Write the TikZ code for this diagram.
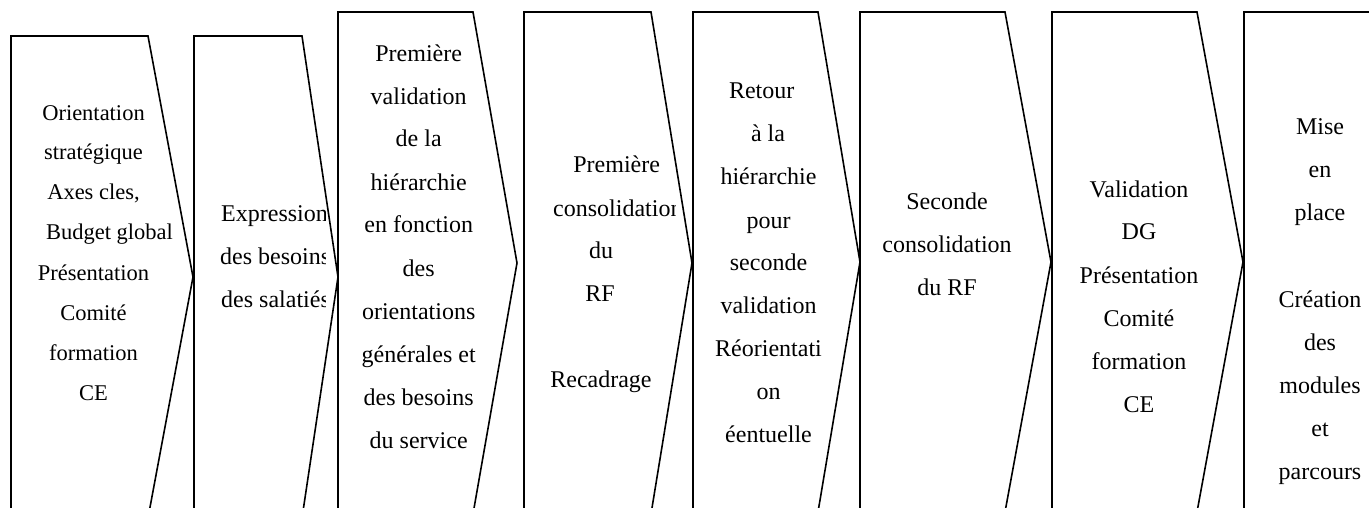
\documentclass[tikz,border=0pt]{standalone}
\usepackage{fontspec}
\setmainfont{Liberation Serif}
\begin{document}
\begin{tikzpicture}[x=1pt,y=-1pt,
  chev/.style={draw=black, line width=1.6pt, line join=miter},
  big/.style={font=\fontsize{24pt}{24pt}\selectfont, inner sep=0pt, anchor=base},
  small/.style={font=\fontsize{22.5pt}{22.5pt}\selectfont, inner sep=0pt, anchor=base}]
\useasboundingbox (0,0) rectangle (1369,508);
\clip (0,0) rectangle (1369,508);

% chevron outlines: left, top, top-right corner, tip, bottom
\draw[chev] (11,36) -- (148,36) -- (193,277) -- (148,518) -- (11,518) -- cycle;
\draw[chev] (194,36) -- (302,36) -- (338,277) -- (302,518) -- (194,518) -- cycle;
\draw[chev] (338,12) -- (473,12) -- (517,263) -- (473,514) -- (338,514) -- cycle;
\draw[chev] (524,12) -- (651,12) -- (692,263) -- (651,514) -- (524,514) -- cycle;
\draw[chev] (693,12) -- (818,12) -- (860,262) -- (818,512) -- (693,512) -- cycle;
\draw[chev] (860,12) -- (1005,12) -- (1051,262) -- (1005,512) -- (860,512) -- cycle;
\draw[chev] (1052,12) -- (1197,12) -- (1243,262) -- (1197,512) -- (1052,512) -- cycle;
\draw[chev] (1244,520) -- (1244,12) -- (1400,12);

% step 1
\node[small] (a1) at (93.5,121) {Orientation};
\node[small] (a2) at (93.5,160) {stratégique};
\node[small] (a3) at (93.5,200) {Axes cles,};
\node[small] (a4) at (109.5,240) {Budget global};
\node[small] (a5) at (93.5,280) {Présentation};
\node[small] (a6) at (93.5,320) {Comité};
\node[small] (a7) at (93.5,360) {formation};
\node[small] (a8) at (93.5,400) {CE};

% step 2 (text cut by its frame)
\begin{scope}
\clip (194,36) rectangle (325,508);
\node[big,anchor=base west] (b1) at (221,222) {Expression};
\node[big,anchor=base west] (b2) at (220,264) {des besoins};
\node[big,anchor=base west] (b3) at (221,307) {des salatiés};
\end{scope}

% step 3
\node[big] (c1) at (418.7,62) {Première};
\node[big] (c2) at (418.7,105) {validation};
\node[big] (c3) at (418.7,147) {de la};
\node[big] (c4) at (418.7,190) {hiérarchie};
\node[big] (c5) at (418.7,233) {en fonction};
\node[big] (c6) at (418.7,276) {des};
\node[big] (c7) at (418.7,319) {orientations};
\node[big] (c8) at (418.7,362) {générales et};
\node[big] (c9) at (418.7,405) {des besoins};
\node[big] (c10) at (418.7,448) {du service};

% step 4 (text cut by its frame)
\begin{scope}
\clip (524,12) rectangle (675,508);
\node[big] (d1) at (616.7,173) {Première};
\node[big,anchor=base west] (d2) at (553,216.7) {consolidation};
\node[big] (d3) at (601,258) {du};
\node[big] (d4) at (600,301) {RF};
\node[big] (d5) at (601,387) {Recadrage};
\end{scope}

% step 5
\node[big] (e1) at (761.7,99) {Retour};
\node[big] (e2) at (768,142) {à la};
\node[big] (e3) at (768.5,185) {hiérarchie};
\node[big] (e4) at (768.5,228) {pour};
\node[big] (e5) at (768.5,270) {seconde};
\node[big] (e6) at (768.5,313) {validation};
\node[big] (e7) at (768.5,356) {Réorientati};
\node[big] (e8) at (768.5,399) {on};
\node[big] (e9) at (768.5,442) {éentuelle};

% step 6
\node[big] (f1) at (947,210) {Seconde};
\node[big] (f2) at (947,252) {consolidation};
\node[big] (f3) at (947,295) {du RF};

% step 7
\node[big] (g1) at (1139,197) {Validation};
\node[big] (g2) at (1139,240) {DG};
\node[big] (g3) at (1139,283) {Présentation};
\node[big] (g4) at (1139,326) {Comité};
\node[big] (g5) at (1139,369) {formation};
\node[big] (g6) at (1139,412) {CE};

% step 8
\node[big] (h1) at (1320,135) {Mise};
\node[big] (h2) at (1320,178) {en};
\node[big] (h3) at (1320,221) {place};
\node[big] (h4) at (1320,307) {Création};
\node[big] (h5) at (1320,350) {des};
\node[big] (h6) at (1320,393) {modules};
\node[big] (h7) at (1320,436) {et};
\node[big] (h8) at (1320,479) {parcours};
\end{tikzpicture}
\end{document}
